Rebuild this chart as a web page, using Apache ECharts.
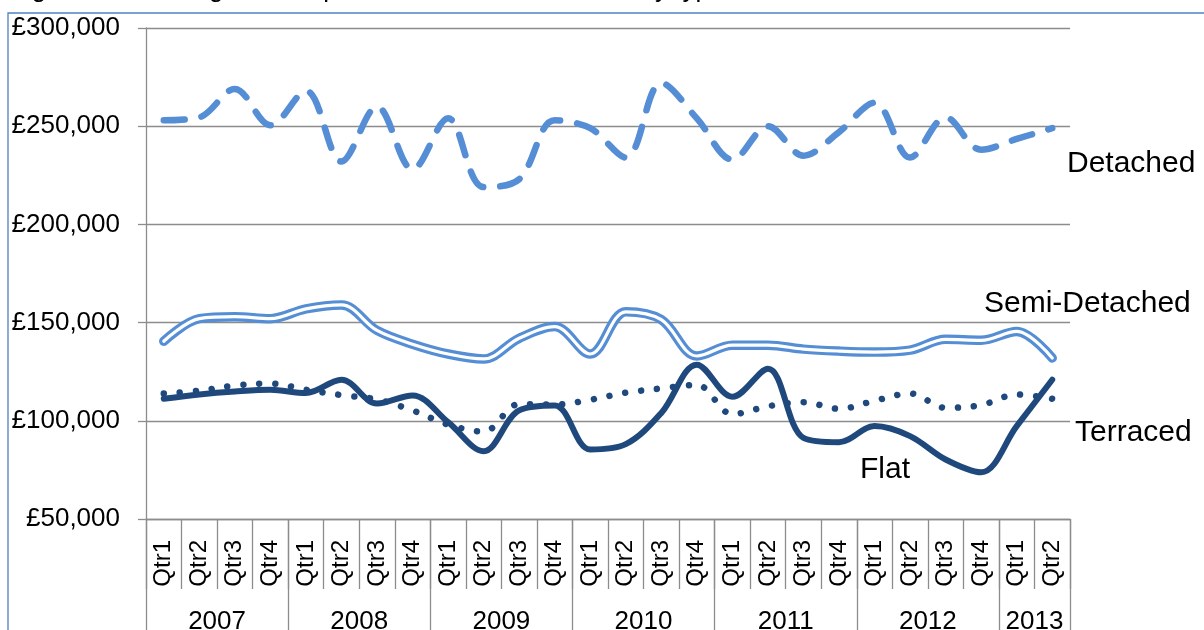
<!DOCTYPE html>
<html>
<head>
<meta charset="utf-8">
<script src="https://cdn.jsdelivr.net/npm/echarts@6/dist/echarts.min.js"></script>
<style>
  html, body { margin: 0; padding: 0; background: #ffffff; }
  #chart { width: 1204px; height: 630px; }
</style>
</head>
<body>
<div id="chart"></div>
<script>
// Period labels
const years = ['2007', '2008', '2009', '2010', '2011', '2012', '2013'];
const quartersPerYear = [4, 4, 4, 4, 4, 4, 2];
const quarterNames = ['Qtr1', 'Qtr2', 'Qtr3', 'Qtr4'];

// Average price by dwelling type, 2007 Qtr1 .. 2013 Qtr2 (GBP)
const detached = [253000, 254500, 269000, 250500, 268000, 232000, 260000, 228000, 254000, 219000,
                  223000, 253000, 249000, 234000, 272000, 254000, 233000, 250000, 235000, 247000,
                  262000, 234000, 254500, 238000, 243500, 249000];
const semiDetached = [140500, 152000, 153000, 152000, 157000, 159000, 146000, 139000, 134000, 131500,
                      142000, 148000, 134000, 155500, 151500, 133000, 138500, 138500, 136500, 135500,
                      135000, 136000, 141500, 141000, 145500, 132000];
const terraced = [113900, 115300, 118000, 119000, 115800, 113100, 110900, 105300, 98100, 94500,
                  108500, 108300, 110700, 114300, 116500, 118300, 103400, 107400, 109500, 106100,
                  110200, 113900, 106600, 108000, 113400, 111200];
const flat = [111200, 113400, 114900, 115800, 114100, 120900, 108800, 112900, 99300, 84500,
              105300, 107800, 85400, 88100, 104000, 128600, 112200, 126500, 91300, 89100,
              97300, 92200, 80300, 73800, 97300, 120900];

// Value axis range
const yMin = 50000;
const yMax = 300000;
const yStep = 50000;

const titleText = 'Figure 4.3: Average house prices in East Staffordshire by type';

// Quarter categories and the year row beneath them
const quarterLabels = [];
const yearSlots = [''];
const yearBreaks = [0];
quartersPerYear.forEach(function (n, yi) {
  for (let q = 0; q < n; q++) quarterLabels.push(quarterNames[q]);
  for (let k = 0; k < n; k++) yearSlots.push('');
  const start = yearBreaks[yearBreaks.length - 1];
  yearSlots[start + n / 2] = years[yi];
  yearBreaks.push(start + n);
});

const FONT = '"Liberation Sans", Arial, sans-serif';
const GRID_GREY = '#8c8c8c';
const LIGHT_BLUE = '#558ED5';
const NAVY = '#1F497D';

function gbp(v) {
  return '£' + String(v).replace(/\B(?=(\d{3})+(?!\d))/g, ',');
}

const chart = echarts.init(document.getElementById('chart'));
const SMOOTH = 0.35;

chart.setOption({
  animation: false,
  backgroundColor: '#ffffff',
  title: {
    text: titleText,
    left: 10,
    top: -23,
    padding: 0,
    textStyle: { fontFamily: FONT, fontSize: 26, fontWeight: 'normal', color: '#000' }
  },
  grid: { left: 146, right: 134, top: 28, bottom: 111, containLabel: false, outerBoundsMode: 'none' },
  xAxis: [
    {
      type: 'category',
      data: quarterLabels,
      boundaryGap: true,
      axisLine: { show: true, lineStyle: { color: GRID_GREY, width: 1.3 } },
      axisTick: { show: true, interval: 0, length: 70, lineStyle: { color: GRID_GREY, width: 1.3 } },
      axisLabel: { interval: 0, rotate: 90, margin: 21, fontFamily: FONT, fontSize: 24, color: '#000' },
      splitLine: { show: false }
    },
    {
      type: 'category',
      data: yearSlots,
      boundaryGap: false,
      position: 'bottom',
      offset: 0,
      axisLine: { show: false },
      axisTick: {
        show: true,
        length: 130,
        interval: function (idx) { return yearBreaks.indexOf(idx) !== -1; },
        lineStyle: { color: GRID_GREY, width: 1.3 }
      },
      axisLabel: { interval: 0, margin: 90, fontFamily: FONT, fontSize: 26, color: '#000' },
      splitLine: { show: false }
    }
  ],
  yAxis: {
    type: 'value',
    min: yMin,
    max: yMax,
    interval: yStep,
    axisLine: { show: true, lineStyle: { color: GRID_GREY, width: 1.3 } },
    axisTick: { show: true, length: 8, lineStyle: { color: GRID_GREY, width: 1.3 } },
    axisLabel: { margin: 26, fontFamily: FONT, fontSize: 26, color: '#000', formatter: gbp },
    splitLine: { show: true, lineStyle: { color: GRID_GREY, width: 1.3 } }
  },
  series: [
    {
      name: 'Detached', type: 'line', data: detached, smooth: SMOOTH,
      symbol: 'none', silent: true,
      lineStyle: { color: LIGHT_BLUE, width: 6.5, type: [21, 17], cap: 'round', join: 'round' }
    },
    {
      name: 'Semi-Detached', type: 'line', data: semiDetached, smooth: SMOOTH,
      symbol: 'none', silent: true,
      lineStyle: { color: LIGHT_BLUE, width: 9.5, cap: 'round', join: 'round' }
    },
    {
      name: 'Semi-Detached', type: 'line', data: semiDetached, smooth: SMOOTH,
      symbol: 'none', silent: true,
      lineStyle: { color: '#ffffff', width: 3.2, cap: 'round', join: 'round' }
    },
    {
      name: 'Terraced', type: 'line', data: terraced, smooth: SMOOTH,
      symbol: 'none', silent: true,
      lineStyle: { color: NAVY, width: 6.5, type: [0.01, 16], cap: 'round', join: 'round' }
    },
    {
      name: 'Flat', type: 'line', data: flat, smooth: SMOOTH,
      symbol: 'none', silent: true,
      lineStyle: { color: NAVY, width: 6, cap: 'round', join: 'round' }
    }
  ],
  graphic: [
    {
      type: 'rect', silent: true, z: 0,
      shape: { x: 8, y: 13, width: 1400, height: 800 },
      style: { fill: 'none', stroke: '#4F81BD', lineWidth: 1.3 }
    },
    { type: 'text', x: 1067, y: 164, silent: true,
      style: { text: 'Detached', fontFamily: FONT, fontSize: 30, fill: '#000', verticalAlign: 'middle' } },
    { type: 'text', x: 984, y: 304, silent: true,
      style: { text: 'Semi-Detached', fontFamily: FONT, fontSize: 30, fill: '#000', verticalAlign: 'middle' } },
    { type: 'text', x: 1075, y: 433, silent: true,
      style: { text: 'Terraced', fontFamily: FONT, fontSize: 30, fill: '#000', verticalAlign: 'middle' } },
    { type: 'text', x: 860, y: 470, silent: true,
      style: { text: 'Flat', fontFamily: FONT, fontSize: 30, fill: '#000', verticalAlign: 'middle' } }
  ]
});
</script>
</body>
</html>
